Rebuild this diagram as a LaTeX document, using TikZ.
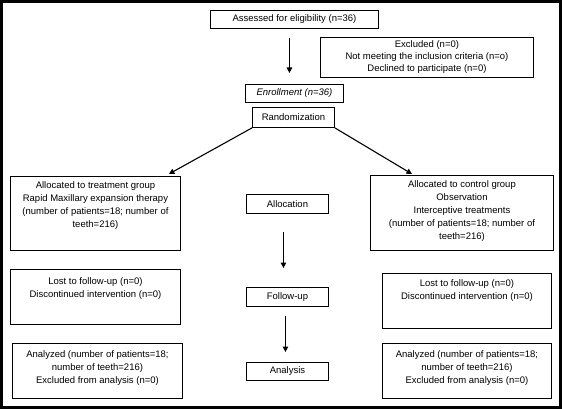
\documentclass[tikz,border=0pt]{standalone}
\usepackage{fontspec}
\setmainfont{Liberation Sans}
\usetikzlibrary{arrows.meta}
\newcommand{\topbox}[4]{\parbox[c][#2][t]{#1}{\centering\vspace*{#3}#4\par}}
\begin{document}
\begin{tikzpicture}[x=1pt,y=-1pt,
  every node/.style={font=\fontsize{9.5}{12.9}\selectfont},
  box/.style={draw, line width=0.9pt, inner sep=0pt, anchor=north west, align=center},
  arr/.style={line width=1.1pt, -{Triangle[length=5.5pt,width=5.5pt]}}]
\useasboundingbox (0,0) rectangle (562,409);
\draw[line width=3pt] (1.5,1.5) rectangle (560.5,407.5);

\node[box, minimum width=168pt, minimum height=18pt] (assess) at (210,10) {Assessed for eligibility (n=36)};
\node[box, minimum width=213pt, minimum height=40pt, font=\fontsize{9.5}{12}\selectfont] (excl) at (320,37) {Excluded (n=0)\\Not meeting the inclusion criteria (n=o)\\Declined to participate (n=0)};
\node[box, minimum width=98pt, minimum height=18pt] (enroll) at (245,84) {\itshape Enrollment (n=36)};
\node[box, minimum width=82pt, minimum height=20pt] (random) at (252,107) {Randomization};

\node[box] (treat) at (10,176) {\topbox{170pt}{74pt}{5pt}{Allocated to treatment group\\Rapid Maxillary expansion therapy\\(number of patients=18; number of\\teeth=216)}};
\node[box, minimum width=82pt, minimum height=19pt] (alloc) at (246,194) {Allocation};
\node[box] (control) at (370,175) {\topbox{183pt}{75pt}{5.5pt}{Allocated to control group\\Observation\\Interceptive treatments\\(number of patients=18; number of\\teeth=216)}};

\node[box] (lostL) at (10,269) {\topbox{170pt}{55pt}{8.5pt}{Lost to follow-up (n=0)\\Discontinued intervention (n=0)}};
\node[box, minimum width=82pt, minimum height=19pt] (follow) at (246,287) {Follow-up};
\node[box] (lostR) at (382,273) {\topbox{169pt}{55pt}{6.5pt}{Lost to follow-up (n=0)\\Discontinued intervention (n=0)}};

\node[box] (anaL) at (12,343) {\topbox{170pt}{55pt}{7pt}{Analyzed (number of patients=18;\\number of teeth=216)\\Excluded from analysis (n=0)}};
\node[box, minimum width=82pt, minimum height=18pt] (analysis) at (246,362) {Analysis};
\node[box] (anaR) at (382,343) {\topbox{169pt}{55pt}{7pt}{Analyzed (number of patients=18;\\number of teeth=216)\\Excluded from analysis (n=0)}};

\draw[arr, shorten <=9pt, shorten >=11pt] ([xshift=-5pt]assess.south) -- ([xshift=-5pt]enroll.north);
\draw[arr] (random.south west) -- ([xshift=-12pt,yshift=2pt]treat.north east);
\draw[arr] (random.south east) -- ([xshift=42pt,yshift=1pt]control.north west);
\draw[arr, shorten <=18pt, shorten >=19pt] ([xshift=-4pt]alloc.south) -- ([xshift=-4pt]follow.north);
\draw[arr, shorten <=9pt, shorten >=10pt] ([xshift=-2pt]follow.south) -- ([xshift=-2pt]analysis.north);
\end{tikzpicture}
\end{document}
